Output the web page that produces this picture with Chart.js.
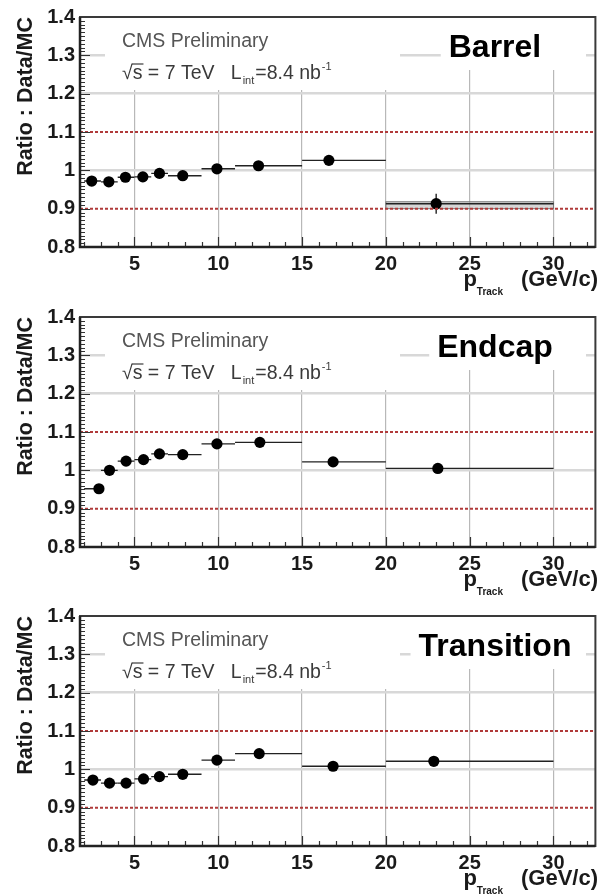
<!DOCTYPE html>
<html>
<head>
<meta charset="utf-8">
<script src="https://cdn.jsdelivr.net/npm/chart.js@4.4.0/dist/chart.umd.min.js"></script>
<style>
  html, body { margin: 0; padding: 0; background: #fff; overflow: hidden; }
  .panel { position: absolute; left: 0; width: 601px; height: 300px; }
</style>
</head>
<body>
<div class="panel" style="top:0"><canvas id="barrel" width="601" height="300"></canvas></div>
<div class="panel" style="top:300px"><canvas id="endcap" width="601" height="300"></canvas></div>
<div class="panel" style="top:599px"><canvas id="transition" width="601" height="300"></canvas></div>
<script>
// axis setup
const xMin = 1.75, xMax = 32.5;
const yMin = 0.8, yMax = 1.4;
const xTicks = [5, 10, 15, 20, 25, 30];
const yTicks = [0.8, 0.9, 1.0, 1.1, 1.2, 1.3, 1.4];
const refLevels = [1.1, 0.9];

// p bins (GeV/c)
const binLow  = [2, 3, 4, 5, 6, 7, 9, 11, 15, 20];
const binHigh = [3, 4, 5, 6, 7, 9, 11, 15, 20, 30];

// Barrel
const barrelX   = [2.45, 3.47, 4.46, 5.5, 6.49, 7.88, 9.92, 12.4, 16.6, 23.0];
const barrelY   = [0.972, 0.970, 0.982, 0.983, 0.992, 0.986, 1.004, 1.012, 1.026, 0.913];
const barrelErr = [0.003, 0.003, 0.003, 0.003, 0.004, 0.004, 0.005, 0.006, 0.008, 0.026];
const barrelBand = [20, 30, 0.900, 0.918]; // grey box on last bin

// Endcap
const endcapX   = [2.88, 3.51, 4.5, 5.54, 6.49, 7.88, 9.92, 12.48, 16.85, 23.1];
const endcapY   = [0.952, 1.000, 1.024, 1.028, 1.043, 1.041, 1.069, 1.073, 1.022, 1.005];
const endcapErr = [0.004, 0.003, 0.003, 0.003, 0.004, 0.004, 0.005, 0.006, 0.008, 0.010];

// Transition
const transX   = [2.52, 3.51, 4.5, 5.54, 6.49, 7.88, 9.92, 12.44, 16.85, 22.86];
const transY   = [0.972, 0.964, 0.964, 0.975, 0.981, 0.987, 1.024, 1.041, 1.008, 1.021];
const transErr = [0.004, 0.004, 0.004, 0.004, 0.004, 0.005, 0.006, 0.007, 0.009, 0.011];

const FONT = "'Liberation Sans', Arial, Helvetica, sans-serif";

const decor = {
    id: 'decor',
    beforeDatasetsDraw(chart, args, opts) {
        const ctx = chart.ctx;
        const a = chart.chartArea;
        const xs = chart.scales.x, ys = chart.scales.y;
        ctx.save();

        // text boxes hide the grid behind them
        ctx.fillStyle = '#fff';
        ctx.fillRect(a.left + 25, a.top + 1, 295, 72);
        ctx.font = 'bold 32px ' + FONT;
        const tw = ctx.measureText(opts.title).width;
        const tLeft = 495 - tw / 2;
        ctx.fillRect(tLeft - 8, a.top + 1, 586 - (tLeft - 8), 52);

        // CMS label
        ctx.fillStyle = '#555';
        ctx.font = '19.5px ' + FONT;
        ctx.textBaseline = 'alphabetic';
        ctx.textAlign = 'left';
        ctx.fillText('CMS Preliminary', 122, a.top + 30);

        // sqrt(s) line
        let cx = 122, base = a.top + 62;
        ctx.fillStyle = '#3a3a3a';
        ctx.fillText('\u221A', cx, base);
        cx += ctx.measureText('\u221A').width;
        const sw = ctx.measureText('s').width;
        ctx.fillText('s', cx, base);
        ctx.strokeStyle = '#3a3a3a';
        ctx.lineWidth = 1.2;
        ctx.beginPath();
        ctx.moveTo(cx - 1, base - 15);
        ctx.lineTo(cx + sw + 1, base - 15);
        ctx.stroke();
        cx += sw;
        let t = ' = 7 TeV   L';
        ctx.fillText(t, cx, base);
        cx += ctx.measureText(t).width;
        ctx.font = '11px ' + FONT;
        ctx.fillText('int', cx + 1, base + 5);
        cx += ctx.measureText('int').width + 2;
        ctx.font = '19.5px ' + FONT;
        t = '=8.4 nb';
        ctx.fillText(t, cx, base);
        cx += ctx.measureText(t).width;
        ctx.font = '11px ' + FONT;
        ctx.fillText('-1', cx + 1, base - 9);

        // region title
        ctx.fillStyle = '#000';
        ctx.font = 'bold 32px ' + FONT;
        ctx.textAlign = 'center';
        ctx.textBaseline = 'middle';
        ctx.fillText(opts.title, 495, a.top + 31);

        // grey band
        if (opts.band) {
            const b = opts.band;
            const x0 = xs.getPixelForValue(b[0]), x1 = xs.getPixelForValue(b[1]);
            const y0 = ys.getPixelForValue(b[3]), y1 = ys.getPixelForValue(b[2]);
            ctx.fillStyle = 'rgba(180,180,180,0.55)';
            ctx.fillRect(x0, y0, x1 - x0, y1 - y0);
            ctx.strokeStyle = '#777';
            ctx.lineWidth = 1;
            ctx.strokeRect(x0, y0, x1 - x0, y1 - y0);
        }

        // error bars
        ctx.strokeStyle = '#222';
        ctx.lineWidth = 1.4;
        opts.ys.forEach((v, i) => {
            const py = ys.getPixelForValue(v);
            const px = xs.getPixelForValue(opts.xs[i]);
            ctx.beginPath();
            ctx.moveTo(xs.getPixelForValue(binLow[i]), py);
            ctx.lineTo(xs.getPixelForValue(binHigh[i]), py);
            ctx.moveTo(px, ys.getPixelForValue(v - opts.err[i]));
            ctx.lineTo(px, ys.getPixelForValue(v + opts.err[i]));
            ctx.stroke();
        });
        ctx.restore();
    },
    afterDatasetsDraw(chart) {
        const ctx = chart.ctx;
        const a = chart.chartArea;
        const xs = chart.scales.x, ys = chart.scales.y;
        ctx.save();
        ctx.strokeStyle = '#333';
        ctx.lineWidth = 1.2;
        ctx.beginPath();
        // y ticks every 0.01, inside frame
        for (let i = 0; i <= 60; i++) {
            const py = Math.round(ys.getPixelForValue(0.8 + i * 0.01)) + 0.5;
            const len = i % 10 === 0 ? 10 : 5;
            ctx.moveTo(a.left, py);
            ctx.lineTo(a.left + len, py);
        }
        // x ticks every 1 GeV
        for (let v = 2; v <= 32; v++) {
            const px = Math.round(xs.getPixelForValue(v)) + 0.5;
            const len = v % 5 === 0 ? 10 : 5;
            ctx.moveTo(px, a.bottom);
            ctx.lineTo(px, a.bottom - len);
        }
        ctx.stroke();
        // frame
        ctx.lineWidth = 2;
        ctx.strokeStyle = '#3a3a3a';
        ctx.strokeRect(a.left, a.top, a.right - a.left, a.bottom - a.top);
        ctx.lineWidth = 2.5;
        ctx.strokeStyle = '#222';
        ctx.beginPath();
        ctx.moveTo(a.left, a.top);
        ctx.lineTo(a.left, a.bottom);
        ctx.lineTo(a.right, a.bottom);
        ctx.stroke();

        // y title
        ctx.fillStyle = '#1a1a1a';
        ctx.font = 'bold 21.5px ' + FONT;
        ctx.translate(26, a.top);
        ctx.rotate(-Math.PI / 2);
        ctx.textAlign = 'right';
        ctx.textBaseline = 'middle';
        ctx.fillText('Ratio : Data/MC', 0, 0);
        ctx.setTransform(1, 0, 0, 1, 0, 0);

        // x title
        ctx.textBaseline = 'alphabetic';
        ctx.textAlign = 'right';
        const base = a.bottom + 39;
        ctx.font = 'bold 22px ' + FONT;
        ctx.fillText('(GeV/c)', 598, base);
        let rx = 598 - ctx.measureText('(GeV/c)').width - 18;
        ctx.font = 'bold 10px ' + FONT;
        ctx.fillText('Track', rx, base + 9);
        rx -= ctx.measureText('Track').width;
        ctx.font = 'bold 22px ' + FONT;
        ctx.fillText('p', rx, base);
        ctx.restore();
    }
};

function refLine(level) {
    return [{ x: xMin, y: level }, { x: xMax, y: level }];
}

function makeChart(id, title, xsArr, ysArr, errArr, band) {
    const points = xsArr.map((x, i) => ({ x: x, y: ysArr[i] }));
    const datasets = refLevels.map(lv => ({
        data: refLine(lv),
        showLine: true,
        borderColor: '#b03a3a',
        borderWidth: 2,
        borderDash: [3, 2],
        pointRadius: 0
    }));
    datasets.push({
        data: points,
        pointRadius: 5.6,
        pointBackgroundColor: '#000',
        pointBorderColor: '#000',
        pointBorderWidth: 0
    });
    return new Chart(document.getElementById(id), {
        type: 'scatter',
        data: { datasets: datasets },
        options: {
            responsive: false,
            animation: false,
            layout: { padding: { top: 15, right: 4, left: 0, bottom: 0 } },
            plugins: {
                legend: { display: false },
                tooltip: { enabled: false },
                decor: { title: title, xs: xsArr, ys: ysArr, err: errArr, band: band }
            },
            scales: {
                x: {
                    type: 'linear', min: xMin, max: xMax,
                    afterBuildTicks: s => { s.ticks = xTicks.map(v => ({ value: v })); },
                    afterFit: s => { s.height = 53; },
                    border: { display: false },
                    grid: { color: '#b8b8b8', lineWidth: 1.2, drawTicks: false },
                    ticks: {
                        font: { family: FONT, size: 20, weight: 'bold' },
                        color: '#1a1a1a', padding: 5, maxRotation: 0, autoSkip: false
                    }
                },
                y: {
                    type: 'linear', min: yMin, max: yMax,
                    afterBuildTicks: s => { s.ticks = yTicks.map(v => ({ value: v })); },
                    afterFit: s => { s.width = 80; },
                    border: { display: false },
                    grid: {
                        drawTicks: false,
                        lineWidth: 2.5,
                        color: c => {
                            const v = c.tick ? c.tick.value : 0;
                            const skip = [0.8, 0.9, 1.1, 1.4].some(s => Math.abs(s - v) < 1e-6);
                            return skip ? 'rgba(0,0,0,0)' : '#d8d8d8';
                        }
                    },
                    ticks: {
                        font: { family: FONT, size: 20, weight: 'bold' },
                        color: '#1a1a1a', padding: 5,
                        callback: v => (Math.abs(v - 1) < 1e-6 ? '1' : v.toFixed(1))
                    }
                }
            }
        },
        plugins: [decor]
    });
}

makeChart('barrel', 'Barrel', barrelX, barrelY, barrelErr, barrelBand);
makeChart('endcap', 'Endcap', endcapX, endcapY, endcapErr, null);
makeChart('transition', 'Transition', transX, transY, transErr, null);
</script>
</body>
</html>
